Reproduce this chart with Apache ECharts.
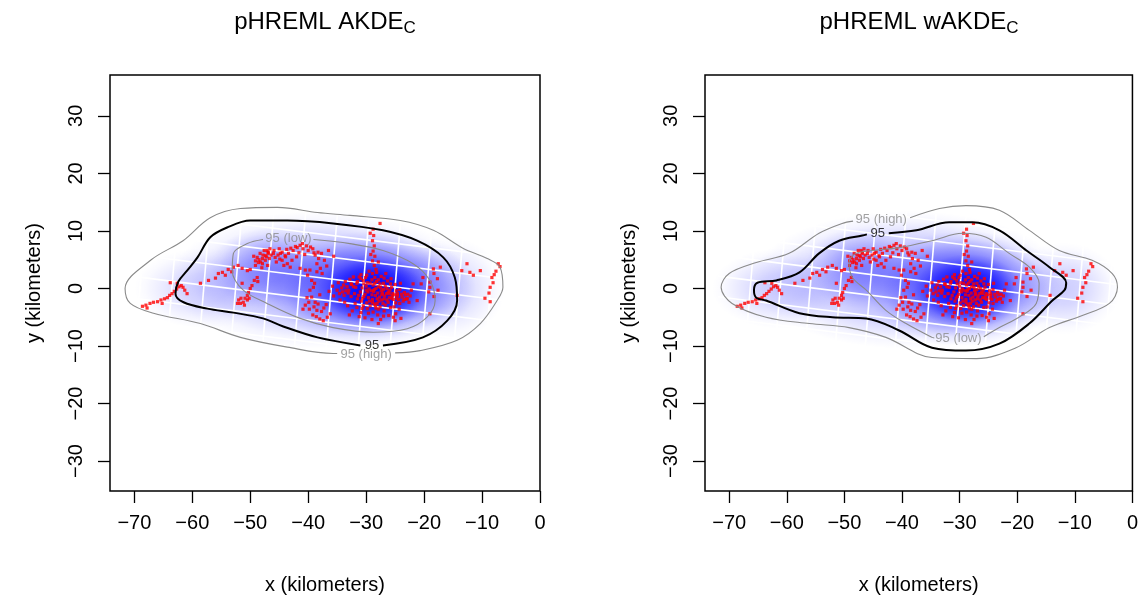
<!DOCTYPE html>
<html>
<head>
<meta charset="utf-8">
<script src="https://cdn.jsdelivr.net/npm/echarts@6/dist/echarts.min.js"></script>
<style>
  html, body { margin: 0; padding: 0; background: #fff; }
  #main { width: 1141px; height: 601px; }
</style>
</head>
<body>
<div id="main"></div>
<script>
// tick labels of both panels
var xTicks = [-70, -60, -50, -40, -30, -20, -10, 0];
var yTicks = [-30, -20, -10, 0, 10, 20, 30];

// relocation fixes (km), same data in both panels
var fixes = [
  // west tail
  [-68.6,-3.1],[-68.0,-2.9],[-67.3,-2.6],[-66.7,-2.4],[-66.0,-2.3],[-65.4,-2.0],[-64.8,-1.8],[-64.3,-1.6],
  [-63.9,-1.2],[-63.5,-0.9],[-63.1,-0.5],[-62.7,-0.1],[-62.3,0.3],[-61.9,0.5],[-61.6,0.2],[-61.3,-0.3],
  [-60.9,-0.9],[-63.8,1.0],[-62.6,0.9],[-65.2,-2.6],[-67.8,-3.4],
  // towards the upper track
  [-58.6,0.9],[-57.2,1.4],[-55.5,2.6],[-54.8,2.8],[-54.3,2.3],[-53.8,3.3],[-52.9,3.7],[-52.1,4.0],
  [-51.4,3.5],[-50.5,3.1],[-50.0,3.3],[-49.1,4.0],[-48.6,4.5],[-47.9,5.2],[-47.4,5.7],[-46.9,6.1],
  [-46.7,5.2],[-45.7,5.4],[-44.8,6.1],[-44.5,4.9],[-44.0,5.7],[-47.1,6.6],[-46.6,6.9],[-45.9,6.6],
  [-56.0,1.8],[-53.2,2.9],[-51.4,0.9],[-48.7,1.2],
  // track down near -50
  [-48.8,1.9],[-49.3,1.4],[-49.7,0.5],[-50.0,0.0],[-50.3,-0.7],[-50.5,-1.2],[-50.9,-1.7],[-50.5,-2.0],
  [-51.2,-2.4],[-51.7,-2.6],[-52.0,-2.0],[-51.6,-1.7],[-50.2,-1.7],[-52.2,-2.6],[-51.0,-2.9],
  // upper cluster
  [-48.8,5.4],[-48.3,6.1],[-47.8,5.8],[-47.4,4.9],[-47.9,4.3],[-49.1,4.8],[-46.9,6.3],[-47.2,5.5],
  [-48.5,5.0],[-47.6,6.6],[-46.0,6.1],[-45.2,5.8],[-44.5,6.3],[-43.9,5.5],[-43.4,6.1],[-42.8,4.9],
  [-42.6,6.6],[-41.9,7.1],[-41.4,7.5],[-40.9,6.9],[-40.0,6.6],[-39.2,6.9],[-38.3,6.3],[-37.7,6.1],
  [-43.6,4.3],[-43.1,3.7],[-42.2,7.3],[-41.0,7.8],[-39.6,7.2],[-38.8,5.8],[-45.5,4.6],[-44.2,4.0],
  [-42.0,5.5],[-40.6,5.9],[-36.5,6.6],[-35.6,5.6],[-37.2,4.9],
  [-48.2,4.6],[-47.0,4.0],[-46.4,5.8],[-45.0,6.9],[-43.0,7.0],[-41.6,6.2],[-40.3,7.4],[-39.0,6.2],
  [-49.4,5.6],[-48.0,3.6],[-44.9,5.1],[-43.7,6.8],
  // middle, going south
  [-41.4,3.5],[-40.5,3.2],[-39.7,3.2],[-38.5,2.9],[-37.9,3.5],[-37.6,2.6],[-38.5,4.3],[-38.2,5.2],
  [-39.4,1.4],[-39.1,0.2],[-39.7,-0.3],[-39.4,-1.5],[-38.8,-2.4],[-38.3,-2.7],[-39.0,-3.2],[-38.5,-3.8],
  [-37.7,-4.0],[-36.7,-5.0],[-39.9,-2.4],[-40.5,-2.9],[-38.0,-1.1],[-37.3,-3.4],[-36.2,-4.4],[-39.2,-4.6],
  [-38.0,-5.3],[-36.9,-2.8],[-40.2,-1.6],[-39.8,-3.6],[-38.6,-4.9],[-37.4,-5.6],[-40.9,-3.6],[-38.9,0.9],
  [-40.1,2.3],[-36.8,3.9],
  // core band
  [-35.0,-0.3],[-34.2,0.1],[-33.3,0.3],[-32.5,0.7],[-31.6,0.9],[-30.5,1.4],[-29.8,1.0],[-28.8,0.6],
  [-27.9,0.3],[-27.0,-0.2],[-26.2,-0.6],[-25.4,-0.9],[-24.6,-1.2],[-23.8,-1.5],[-23.0,-1.8],
  // small loop
  [-30.0,-0.3],[-30.4,0.8],[-31.5,1.2],[-32.6,0.8],[-33.0,-0.3],[-32.6,-1.4],[-31.5,-1.8],[-30.4,-1.4],
  // north-south streak
  [-28.8,10.3],[-28.7,9.2],[-28.9,8.3],[-28.6,7.4],[-28.8,6.5],[-28.5,5.6],[-28.9,4.8],[-28.6,4.0],
  [-28.3,3.3],[-28.9,2.6],[-28.5,1.9],[-28.2,1.2],[-28.7,-0.5],[-28.4,-1.2],[-28.9,-1.9],[-28.6,-2.7],
  [-28.3,-3.4],[-28.8,-4.1],[-29.3,-3.0],[-27.8,-2.2],[-27.6,11.3],[-29.3,9.6],
  // core scatter
  [-30.2,-1.0],[-29.6,-1.6],[-29.1,-0.4],[-27.6,0.8],[-27.3,-1.1],[-26.7,0.4],[-26.0,-1.6],[-25.6,0.2],
  [-27.1,-2.6],[-29.9,-2.5],[-30.8,-2.2],[-31.9,-2.6],[-33.8,-1.2],[-34.5,-2.0],[-33.6,1.2],[-32.2,2.0],
  [-30.9,2.4],[-29.5,3.0],[-27.4,2.1],[-26.3,1.3],[-25.0,0.7],[-24.2,-0.2],[-23.4,-0.7],[-22.6,-2.4],
  [-24.9,-2.5],[-25.8,-3.3],[-26.9,-3.9],[-28.0,-4.6],[-29.6,-4.3],[-30.7,-3.5],[-32.4,-3.9],[-33.2,-3.0],
  [-31.2,-4.9],[-27.5,-5.4],[-26.1,-4.7],[-24.3,-3.6],[-35.6,-1.3],[-34.8,1.0],[-30.0,0.4],[-29.3,0.9],
  [-28.0,-0.8],[-27.0,0.9],[-26.5,-0.9],[-25.3,-1.9],[-31.0,-0.6],[-32.0,-0.9],[-30.5,-3.0],[-29.0,-5.4],
  [-27.9,-6.1],[-25.0,-5.6],[-25.3,-5.0],[-24.0,-5.2],
  [-33.9,0.6],[-33.1,-0.8],[-32.8,1.6],[-31.8,0.2],[-31.2,2.0],[-30.7,0.1],[-30.1,1.9],[-29.7,-0.6],
  [-29.4,-2.2],[-29.0,1.5],[-28.3,0.0],[-27.7,-1.5],[-27.4,-0.4],[-26.9,-1.8],[-26.4,0.0],[-25.9,-0.3],
  [-25.5,-1.3],[-24.8,-0.4],[-24.4,-1.9],[-23.6,-2.2],[-23.2,-1.1],[-22.4,-1.3],[-26.2,-2.4],[-27.6,-3.2],
  [-28.1,-2.6],[-29.8,-3.5],[-30.9,-4.2],[-31.6,-3.3],[-33.7,-2.4],[-34.1,-0.6],[-35.8,0.4],[-36.4,-0.5],
  [-32.9,-4.6],[-30.2,-5.1],[-27.0,-4.8],[-26.6,2.6],[-25.7,1.7],[-24.1,0.9],[-28.2,2.8],[-27.9,4.6],
  [-29.2,5.9],
  [-29.5,-0.1],[-29.0,-1.1],[-28.6,-0.2],[-28.1,-1.8],[-27.5,0.2],[-27.2,-0.8],[-26.8,-1.3],[-26.4,-2.0],
  [-26.0,-0.9],[-25.6,-1.7],[-25.1,-1.1],[-24.7,-1.7],[-24.2,-2.6],[-23.9,-1.0],[-23.4,-1.9],[-22.8,-1.0],
  [-28.9,-2.4],[-28.4,-3.0],[-27.9,-3.6],[-27.3,-2.0],[-26.7,-2.9],[-30.6,-1.7],[-31.3,-1.2],[-32.2,0.3],
  [-33.5,-0.4],[-34.6,-0.9],[-30.9,1.7],[-29.9,2.3],[-28.5,0.9],[-27.9,1.5],[-26.9,1.8],[-25.8,0.8],
  // east
  [-21.9,0.8],[-22.2,-0.3],[-21.2,-2.1],[-22.9,-1.8],[-24.6,-0.9],[-25.2,-3.2],[-24.9,-4.4],[-20.2,1.9],
  [-20.5,0.8],[-19.0,1.1],[-18.4,3.4],[-18.3,2.6],[-19.0,0.2],[-19.2,-0.6],[-17.6,-0.3],[-18.3,-1.4],
  [-19.0,-4.4],[-17.2,3.7],[-17.7,1.7],[-14.3,-1.2],[-13.5,3.1],[-12.6,4.3],[-12.1,2.8],[-11.5,2.3],
  [-10.3,3.1],[-8.3,1.9],[-8.1,1.0],[-7.9,2.4],[-7.2,4.3],[-6.9,3.8],[-8.6,0.2],[-9.5,-1.7],
  [-8.6,-2.3],[-7.6,3.0],[-8.8,-0.8]
];

// density blobs: cx, cy, rx, ry, peak opacity
var leftBlobs = [
  [-28.5, -0.5, 10, 6.5, 1.0],
  [-29, 0, 18, 10, 0.7],
  [-38, 1.5, 26, 12, 0.4],
  [-47, 3.5, 10, 7, 0.3],
  [-58, 0, 12, 7, 0.18],
  [-16, 0, 10, 9, 0.18]
];
var rightBlobs = [
  [-28.5, -0.5, 9.5, 6.5, 1.0],
  [-29, 0, 17, 10, 0.7],
  [-39, 1.5, 27, 12, 0.38],
  [-47, 3.5, 10, 7, 0.3],
  [-61, 0, 12, 7, 0.2],
  [-12, 0, 10, 8, 0.2]
];

// contours, open at the label
var leftLow = [[-39.1,8.5],[-32.8,7.8],[-27.1,6.6],[-21.9,4.3],[-19.0,1.4],[-18.1,-2.1],[-19.5,-5.0],[-22.9,-7.0],
  [-28.8,-7.6],[-35.7,-6.8],[-41.4,-5.2],[-47.1,-2.6],[-51.2,-0.3],[-53.1,3.1],[-52.9,6.1],[-50.5,7.8],[-47.8,8.5]];
var leftMid = [[-27.1,-9.9],[-20.2,-8.5],[-16.0,-5.6],[-14.3,-2.1],[-14.7,1.9],[-16.7,5.4],[-21.2,8.3],[-27.1,10.1],
  [-35.7,11.3],[-43.6,11.8],[-50.0,11.8],[-54.0,10.6],[-56.9,8.9],[-59.1,5.4],[-60.9,3.1],[-62.4,1.2],[-62.9,-0.9],
  [-61.5,-2.4],[-57.4,-3.5],[-52.9,-4.2],[-47.8,-5.2],[-44.3,-6.6],[-38.4,-8.5],[-31.0,-9.9]];
var leftHigh = [[-25.0,-11.2],[-20.7,-10.8],[-14.3,-9.0],[-10.3,-6.1],[-7.4,-2.1],[-6.4,0.2],[-6.9,3.7],[-9.1,5.2],
  [-13.3,7.0],[-18.4,10.1],[-24.1,11.8],[-32.8,12.7],[-38.4,13.2],[-45.3,14.1],[-51.7,13.9],[-56.9,12.3],[-61.6,8.3],
  [-67.2,4.9],[-71.6,0.0],[-70.7,-2.6],[-66.7,-4.3],[-58.6,-6.1],[-51.7,-8.5],[-43.6,-10.2],[-35.7,-11.3],[-35.0,-11.3]];

var rightHigh = [[-38.6,12.3],[-33.5,13.9],[-28.9,14.4],[-23.1,13.6],[-17.9,10.1],[-12.7,6.6],[-7.0,4.9],[-3.5,2.6],
  [-2.6,0.2],[-4.0,-2.6],[-8.7,-4.7],[-14.4,-6.8],[-20.2,-10.3],[-27.1,-12.2],[-34.8,-12.0],[-42.8,-8.5],[-49.2,-6.8],
  [-56.1,-6.1],[-63.6,-5.0],[-69.5,-2.6],[-71.4,0.2],[-70.0,2.6],[-65.3,4.5],[-59.6,6.1],[-54.4,9.6],[-50.4,11.3],[-48.5,11.7]];
var rightMid = [[-42.3,9.6],[-37.5,10.1],[-31.8,11.5],[-27.8,11.5],[-23.1,10.1],[-18.4,6.6],[-14.4,3.7],[-11.5,1.0],
  [-11.8,-0.3],[-13.9,-2.1],[-17.9,-6.1],[-23.1,-9.6],[-28.9,-10.8],[-34.8,-10.3],[-40.5,-7.3],[-46.2,-5.2],[-52.1,-5.0],
  [-57.8,-4.3],[-63.6,-2.1],[-65.3,-1.6],[-65.7,-0.3],[-65.1,1.0],[-61.8,1.4],[-57.8,2.8],[-54.4,6.1],[-50.9,8.3],
  [-46.9,9.2],[-46.1,9.4]];
var rightLow = [[-25.8,-8.4],[-23.1,-6.8],[-19.7,-5.0],[-16.7,-2.6],[-16.2,0.9],[-17.9,3.7],[-21.4,6.1],[-25.4,8.9],
  [-29.5,9.6],[-34.8,8.3],[-40.5,7.1],[-45.2,6.6],[-48.0,6.1],[-49.2,4.5],[-48.6,1.9],[-46.2,-0.3],[-42.8,-3.8],
  [-39.3,-6.1],[-34.8,-8.5],[-34.4,-8.6]];

// contour labels: x, y, text
var leftLabels = [[-43.4, 8.7, '95 (low)'], [-29.0, -9.9, '95'], [-30.0, -11.4, '95 (high)']];
var rightLabels = [[-43.6, 12.0, '95 (high)'], [-44.2, 9.6, '95'], [-30.2, -8.7, '95 (low)']];

var FONT = 'Liberation Sans, Arial, Helvetica, sans-serif';

// white raster grid lines, tilted a little; kept inside the frame
function gridLines(p) {
  var out = [];
  for (var i = -9; i <= 9; i++) {
    var x0 = p.vx + i * p.sx;
    if (x0 < -71 || x0 > -3) continue;
    out.push([x0 + p.tv * (-16 - p.vy), -16, x0 + p.tv * (18 - p.vy), 18]);
  }
  for (var j = -6; j <= 6; j++) {
    var y0 = p.hy + j * p.sy;
    out.push([-72, y0 + p.th * (-72 - p.hx), -2, y0 + p.th * (-2 - p.hx)]);
  }
  return out;
}
var leftRaster = gridLines({vx: -29.7, vy: 10, sx: 5.5, tv: 0.083, hx: -31, hy: 1.0, sy: 3.8, th: -0.125});
var rightRaster = gridLines({vx: -29.5, vy: 5.4, sx: 5.2, tv: 0.083, hx: -30, hy: 0.5, sy: 3.6, th: -0.125});

function renderBlob(params, api) {
  var c = api.coord([api.value(0), api.value(1)]);
  var rx = Math.abs(api.size([api.value(2), 0])[0]);
  var ry = Math.abs(api.size([0, api.value(3)])[1]);
  var a = api.value(4);
  var col = function (k) { return 'rgba(0,0,255,' + (a * k).toFixed(3) + ')'; };
  return {
    type: 'circle',
    x: c[0], y: c[1], scaleX: rx / ry,
    shape: {cx: 0, cy: 0, r: ry},
    style: {
      fill: {
        type: 'radial', x: 0.5, y: 0.5, r: 0.5,
        colorStops: [
          {offset: 0, color: col(1)},
          {offset: 0.35, color: col(0.78)},
          {offset: 0.65, color: col(0.38)},
          {offset: 0.85, color: col(0.1)},
          {offset: 1, color: col(0)}
        ]
      }
    }
  };
}

function renderRaster(params, api) {
  var p1 = api.coord([api.value(0), api.value(1)]);
  var p2 = api.coord([api.value(2), api.value(3)]);
  return {
    type: 'line',
    shape: {x1: p1[0], y1: p1[1], x2: p2[0], y2: p2[1]},
    style: {stroke: '#ffffff', lineWidth: 1.6}
  };
}

function minus(v) { return String(v).replace('-', '\u2212'); }

function xAxisFor(i) {
  return {
    gridIndex: i, type: 'value', min: -74.2, max: 0,
    name: 'x (kilometers)', nameLocation: 'middle', nameGap: 84,
    nameTextStyle: {fontFamily: FONT, fontSize: 20, color: '#000'},
    axisLine: {show: false, onZero: false},
    splitLine: {show: false},
    axisTick: {show: true, length: 12, customValues: xTicks, lineStyle: {color: '#000', width: 1.3}},
    axisLabel: {customValues: xTicks, margin: 22, fontFamily: FONT, fontSize: 20, color: '#000', formatter: minus}
  };
}
function yAxisFor(i) {
  return {
    gridIndex: i, type: 'value', min: -35.2, max: 37.1,
    name: 'y (kilometers)', nameLocation: 'middle', nameGap: 66, nameRotate: 90,
    nameTextStyle: {fontFamily: FONT, fontSize: 20, color: '#000'},
    axisLine: {show: false, onZero: false},
    splitLine: {show: false},
    axisTick: {show: true, length: 12, customValues: yTicks, lineStyle: {color: '#000', width: 1.3}},
    axisLabel: {customValues: yTicks, rotate: 90, margin: 24, fontFamily: FONT, fontSize: 20, color: '#000', formatter: minus}
  };
}

function panelSeries(i, blobs, raster, low, mid, high, labels) {
  var contour = function (data, color, width) {
    return {
      type: 'line', xAxisIndex: i, yAxisIndex: i, data: data, showSymbol: false, symbol: 'none',
      smooth: 0.35, lineStyle: {color: color, width: width}, silent: true, animation: false
    };
  };
  return [
    {type: 'custom', xAxisIndex: i, yAxisIndex: i, data: blobs, renderItem: renderBlob,
      encode: {x: 0, y: 1}, clip: true, silent: true, animation: false},
    {type: 'custom', xAxisIndex: i, yAxisIndex: i, data: raster, renderItem: renderRaster,
      encode: {x: [0, 2], y: [1, 3]}, clip: true, silent: true, animation: false},
    {type: 'scatter', xAxisIndex: i, yAxisIndex: i, data: fixes, symbol: 'rect', symbolSize: 3.2,
      itemStyle: {color: '#ff0000'}, silent: true, animation: false},
    contour(low, '#8a8a8a', 1.1),
    contour(mid, '#000000', 2),
    contour(high, '#8a8a8a', 1.1),
    {type: 'scatter', xAxisIndex: i, yAxisIndex: i, symbolSize: 0, silent: true, animation: false,
      data: labels.map(function (l) {
        return {value: [l[0], l[1]], name: l[2], label: {color: l[2] === '95' ? '#000' : '#8a8a8a'}};
      }),
      label: {show: true, position: 'inside', formatter: '{b}', fontFamily: FONT, fontSize: 13},
      labelLayout: {hideOverlap: false}}
  ];
}

var chart = echarts.init(document.getElementById('main'), null, {renderer: 'canvas'});

var option = {
  backgroundColor: '#ffffff',
  animation: false,
  grid: [
    {left: 110, top: 75, width: 430, height: 416, show: true, borderColor: '#000', borderWidth: 1.5, backgroundColor: 'transparent'},
    {left: 705, top: 75, width: 428, height: 416, show: true, borderColor: '#000', borderWidth: 1.5, backgroundColor: 'transparent'}
  ],
  xAxis: [xAxisFor(0), xAxisFor(1)],
  yAxis: [yAxisFor(0), yAxisFor(1)],
  graphic: [
    {type: 'text', x: 325, y: 22, style: {
      text: '{m|pHREML AKDE}{s|C}', align: 'center', verticalAlign: 'middle',
      rich: {m: {fontFamily: FONT, fontSize: 24, color: '#000'}, s: {fontFamily: FONT, fontSize: 17, color: '#000', padding: [12, 0, 0, 0]}}
    }},
    {type: 'text', x: 919, y: 22, style: {
      text: '{m|pHREML wAKDE}{s|C}', align: 'center', verticalAlign: 'middle',
      rich: {m: {fontFamily: FONT, fontSize: 24, color: '#000'}, s: {fontFamily: FONT, fontSize: 17, color: '#000', padding: [12, 0, 0, 0]}}
    }}
  ],
  series: [].concat(
    panelSeries(0, leftBlobs, leftRaster, leftLow, leftMid, leftHigh, leftLabels),
    panelSeries(1, rightBlobs, rightRaster, rightLow, rightMid, rightHigh, rightLabels)
  )
};

chart.setOption(option);
</script>
</body>
</html>
